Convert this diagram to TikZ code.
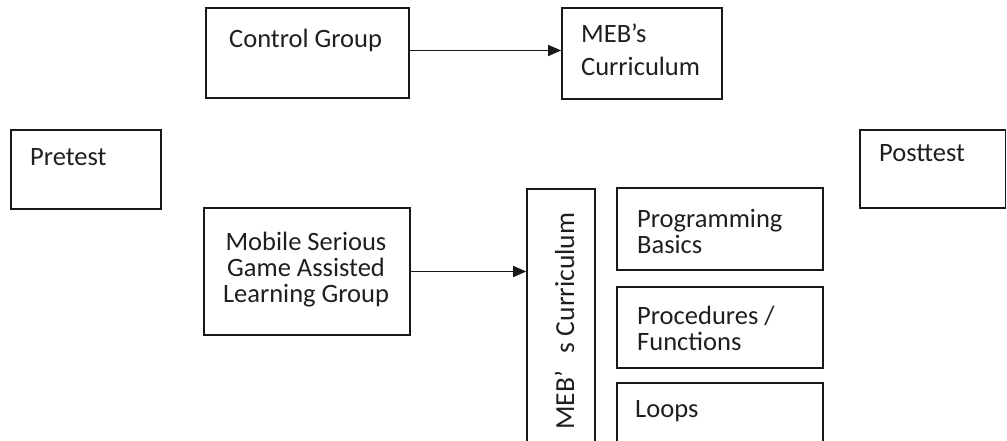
\documentclass[tikz,border=0pt]{standalone}
\usepackage{fontspec}
\setmainfont{Carlito}
\usetikzlibrary{arrows.meta,calc}
\begin{document}
\begin{tikzpicture}[x=1pt,y=-1pt,
  box/.style={draw=black!90, line width=1.7pt, inner sep=0pt},
  txt/.style={font=\fontsize{26.5}{26}\selectfont, text=black!88, inner sep=0pt},
  vtxt/.style={font=\fontsize{27.5}{28}\selectfont, text=black!88, inner sep=0pt, rotate=90},
  arr/.style={-{Triangle[length=13pt,width=11pt]}, line width=1.6pt, draw=black!90, fill=black!90}]
\useasboundingbox (0,0) rectangle (1007,441);
\clip (0,0) rectangle (1007,441);
% boxes
\node[box, minimum width=203pt, minimum height=90pt] (cg) at (307.5,53) {};
\node[box, minimum width=160pt, minimum height=91pt] (meb) at (642,53.5) {};
\node[box, minimum width=150pt, minimum height=79pt] (pre) at (86,169.5) {};
\node[box, minimum width=145.5pt, minimum height=78pt] (post) at (932.75,169) {};
\node[box, minimum width=206pt, minimum height=127pt] (msg) at (307,271.5) {};
\node[box, minimum width=68pt, minimum height=271pt] (cur) at (561,324.5) {};
\node[box, minimum width=206pt, minimum height=82pt] (pb) at (720,229) {};
\node[box, minimum width=206pt, minimum height=81pt] (pf) at (720,327.5) {};
\node[box, minimum width=206pt, minimum height=77pt] (lp) at (720,421.5) {};
% texts
\node[txt, anchor=base west] (cgt) at (229,48) {Control Group};
\node[txt, anchor=base west] (mebt1) at (581,43) {MEB’s};
\node[txt, anchor=base west] (mebt2) at (581,76) {Curriculum};
\node[txt, anchor=base west] (pret) at (30,166) {Pretest};
\node[txt, anchor=base west] (postt) at (879,162) {Posttest};
\node[txt, anchor=base] (msgt1) at (306,250) {Mobile Serious};
\node[txt, anchor=base] (msgt2) at (306,276) {Game Assisted};
\node[txt, anchor=base] (msgt3) at (306,302) {Learning Group};
\node[txt, anchor=base west] (pbt1) at (637,227) {Programming};
\node[txt, anchor=base west] (pbt2) at (637,253) {Basics};
\node[txt, anchor=base west] (pft1) at (637,324) {Procedures /};
\node[txt, anchor=base west] (pft2) at (637,350) {Functions};
\node[txt, anchor=base west] (lpt) at (635,417) {Loops};
\node[vtxt, anchor=base west] (curt) at (574,430) {MEB’\hspace{18pt}s Curriculum};
% arrows
\coordinate (cgout) at ([yshift=2.5pt]cg.east);
\draw[arr] (cgout) -- (cgout -| meb.west);
\draw[arr] (msg.east) -- (msg.east -| cur.west);
\end{tikzpicture}
\end{document}
